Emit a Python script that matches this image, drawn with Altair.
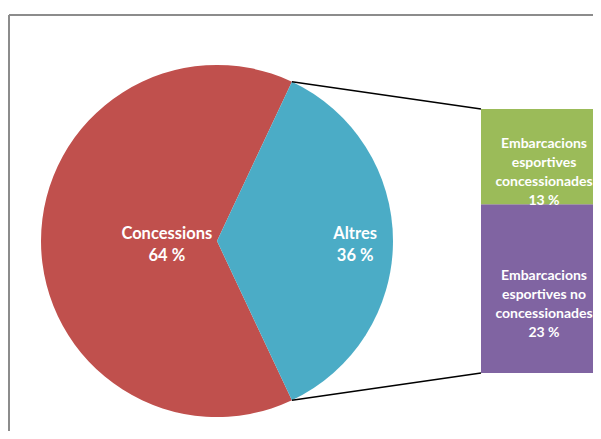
import math
import altair as alt
import pandas as pd

# ---- data ----
pie_labels = ["Concessions", "Altres"]
pie_values = [64, 36]
bar_labels = ["Embarcacions\nesportives\nconcessionades", "Embarcacions\nesportives no\nconcessionades"]
bar_values = [13, 23]
pie_colors = ["#C0504D", "#4BACC6"]
bar_colors = ["#9BBB59", "#8064A2"]

# ---- layout ----
W, H = 584, 416
PAD_L, PAD_T = 1, 7
PIE_CX = 208
PIE_R = 176
BAR_X0, BAR_X1 = 472, 616
BAR_TEXT_X = 535
BAR_TOP_PX, BAR_BOT_PX = 94, 358
LABEL_R = [0.285, 0.785]
FONT = "Lato"

total_bar = sum(bar_values)
k = (BAR_BOT_PX - BAR_TOP_PX) / total_bar
y_min = -(H - BAR_BOT_PX) / k
y_max = total_bar + BAR_TOP_PX / k
pie_cy = total_bar / 2

xs = alt.Scale(domain=[0, W], nice=False, zero=False)
ys = alt.Scale(domain=[y_min, y_max], nice=False, zero=False)

# pie slices: the "Altres" slice (exploded into the bar) is centred on the right
tot = sum(pie_values)
span_a = 2 * math.pi * pie_values[1] / tot
a0 = math.pi / 2 - span_a / 2
starts = [a0 + span_a, a0]
ends = [a0 + 2 * math.pi, a0 + span_a]
pie_rows = []
for i, (lab, val) in enumerate(zip(pie_labels, pie_values)):
    mid = (starts[i] + ends[i]) / 2
    lr = LABEL_R[i] * PIE_R
    pie_rows.append({
        "label": lab,
        "value": val,
        "color": pie_colors[i],
        "t0": starts[i],
        "t1": ends[i],
        "cx": PIE_CX,
        "cy": pie_cy,
        "lx": PIE_CX + lr * math.sin(mid),
        "ly": pie_cy + lr * math.cos(mid) / k,
        "text": f"{lab}\n{val} %",
    })
pie_df = pd.DataFrame(pie_rows)

arcs = alt.Chart(pie_df).mark_arc(radius=PIE_R).encode(
    x=alt.X("cx:Q", scale=xs, axis=None),
    y=alt.Y("cy:Q", scale=ys, axis=None),
    theta=alt.Theta("t0:Q", scale=None),
    theta2=alt.Theta2("t1:Q"),
    color=alt.Color("color:N", scale=None),
)

pie_text = alt.Chart(pie_df).mark_text(
    font=FONT, fontWeight="bold", fontSize=16.5, color="white",
    lineBreak="\n", lineHeight=22, baseline="middle", align="center", dy=-7,
).encode(
    x=alt.X("lx:Q", scale=xs, axis=None),
    y=alt.Y("ly:Q", scale=ys, axis=None),
    text="text:N",
)

# bar (stacked, "no concessionades" at bottom)
bar_rows = []
cum = 0
for lab, val, col in reversed(list(zip(bar_labels, bar_values, bar_colors))):
    bar_rows.append({
        "label": lab, "value": val, "color": col, "y0": cum, "y1": cum + val,
        "ym": cum + val / 2, "x0": BAR_X0, "x1": BAR_X1,
        "xm": BAR_TEXT_X, "text": f"{lab}\n{val} %",
    })
    cum += val
bar_df = pd.DataFrame(bar_rows)

bars = alt.Chart(bar_df).mark_rect().encode(
    x=alt.X("x0:Q", scale=xs, axis=None),
    x2="x1:Q",
    y=alt.Y("y0:Q", scale=ys, axis=None),
    y2="y1:Q",
    color=alt.Color("color:N", scale=None),
)

bar_text = alt.Chart(bar_df).mark_text(
    font=FONT, fontWeight="bold", fontSize=14, color="white",
    lineBreak="\n", lineHeight=19, baseline="middle", align="center", dy=-13,
).encode(
    x=alt.X("xm:Q", scale=xs, axis=None),
    y=alt.Y("ym:Q", scale=ys, axis=None),
    text="text:N",
)

# connector lines from the Altres slice edges to the bar corners
conn_df = pd.DataFrame([
    {"px": PIE_CX + PIE_R * math.sin(a0), "py": pie_cy + PIE_R * math.cos(a0) / k,
     "bx": BAR_X0, "by": total_bar},
    {"px": PIE_CX + PIE_R * math.sin(a0 + span_a), "py": pie_cy + PIE_R * math.cos(a0 + span_a) / k,
     "bx": BAR_X0, "by": 0},
])
conns = alt.Chart(conn_df).mark_rule(color="black", strokeWidth=1.6).encode(
    x=alt.X("px:Q", scale=xs, axis=None),
    y=alt.Y("py:Q", scale=ys, axis=None),
    x2="bx:Q",
    y2="by:Q",
)

# chart frame (top and left edges visible)
frame_top = alt.Chart(pd.DataFrame({"a": [0]})).mark_rule(color="#8C8C8C", strokeWidth=2).encode(
    x=alt.value(0), x2=alt.value(W + 20), y=alt.value(0)
)
frame_left = alt.Chart(pd.DataFrame({"a": [0]})).mark_rule(color="#8C8C8C", strokeWidth=2).encode(
    x=alt.value(0), y=alt.value(0), y2=alt.value(H + 20)
)

chart = alt.layer(
    frame_top, frame_left, arcs, bars, conns, pie_text, bar_text
).properties(
    width=W, height=H,
    autosize=alt.AutoSizeParams(type="none"),
    padding={"left": PAD_L, "top": PAD_T, "right": 0, "bottom": 0},
).configure_view(stroke=None)

chart.save("out.html", embed_options={"renderer": "svg", "actions": False})
